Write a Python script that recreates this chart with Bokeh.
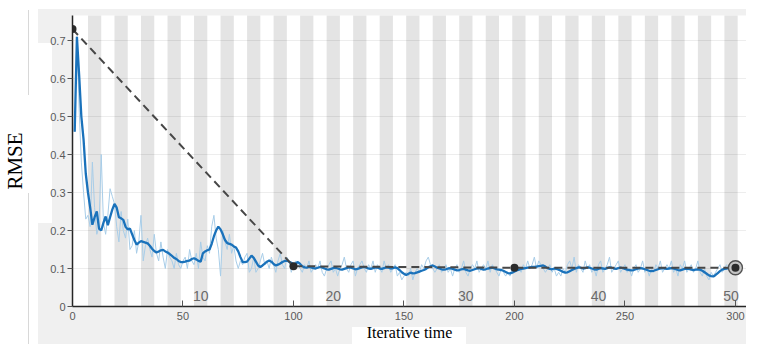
from bokeh.plotting import figure
from bokeh.models import Range1d, ColumnDataSource, FixedTicker
from bokeh.core.properties import value
from bokeh.embed import file_html
from bokeh.resources import INLINE

# ---------------- data ----------------
iterations = list(range(1, 301))

smoothed_rmse = [
    0.46, 0.71, 0.61, 0.50, 0.44, 0.35, 0.30, 0.26, 0.215, 0.235,
    0.25, 0.205, 0.20, 0.22, 0.237, 0.214, 0.235, 0.255, 0.27, 0.26,
    0.235, 0.232, 0.228, 0.21, 0.203, 0.205, 0.19, 0.175, 0.163, 0.168,
    0.172, 0.170, 0.168, 0.166, 0.160, 0.152, 0.146, 0.142, 0.145, 0.148,
    0.149, 0.145, 0.142, 0.138, 0.133, 0.128, 0.125, 0.120, 0.117, 0.117,
    0.118, 0.120, 0.121, 0.125, 0.127, 0.124, 0.120, 0.118, 0.140, 0.145,
    0.148, 0.150, 0.165, 0.185, 0.200, 0.210, 0.203, 0.190, 0.175, 0.167,
    0.165, 0.163, 0.158, 0.155, 0.145, 0.130, 0.117, 0.117, 0.118, 0.126,
    0.134, 0.128, 0.118, 0.108, 0.104, 0.108, 0.113, 0.118, 0.121, 0.118,
    0.112, 0.108, 0.110, 0.113, 0.117, 0.120, 0.121, 0.118, 0.115, 0.112,
    0.113, 0.117, 0.112, 0.106, 0.103, 0.102, 0.104, 0.103, 0.101, 0.100,
    0.102, 0.104, 0.103, 0.100, 0.098, 0.097, 0.099, 0.101, 0.102, 0.100,
    0.098, 0.097, 0.099, 0.101, 0.103, 0.102, 0.100, 0.098, 0.099, 0.101,
    0.103, 0.104, 0.102, 0.100, 0.099, 0.101, 0.103, 0.102, 0.100, 0.099,
    0.101, 0.103, 0.102, 0.100, 0.101, 0.103, 0.101, 0.096, 0.090, 0.086,
    0.083, 0.086, 0.089, 0.087, 0.088, 0.090, 0.092, 0.094, 0.096, 0.099,
    0.103, 0.106, 0.108, 0.105, 0.102, 0.100, 0.098, 0.097, 0.098, 0.100,
    0.101, 0.099, 0.097, 0.095, 0.096, 0.098, 0.099, 0.097, 0.095, 0.094,
    0.096, 0.098, 0.100, 0.101, 0.099, 0.097, 0.098, 0.100, 0.101, 0.102,
    0.100, 0.098, 0.097, 0.096, 0.094, 0.091, 0.088, 0.087, 0.089, 0.092,
    0.095, 0.097, 0.099, 0.100, 0.101, 0.102, 0.103, 0.104, 0.104, 0.105,
    0.106, 0.107, 0.108, 0.105, 0.101, 0.099, 0.098, 0.100, 0.099, 0.097,
    0.094, 0.091, 0.089, 0.090, 0.093, 0.096, 0.099, 0.101, 0.103, 0.102,
    0.100, 0.101, 0.103, 0.102, 0.100, 0.098, 0.097, 0.099, 0.101, 0.100,
    0.099, 0.101, 0.103, 0.102, 0.100, 0.099, 0.101, 0.102, 0.101, 0.099,
    0.097, 0.096, 0.095, 0.096, 0.098, 0.100, 0.101, 0.100, 0.098, 0.096,
    0.094, 0.093, 0.094, 0.096, 0.098, 0.100, 0.101, 0.100, 0.099, 0.100,
    0.101, 0.100, 0.098, 0.096, 0.095, 0.097, 0.099, 0.100, 0.099, 0.097,
    0.096, 0.097, 0.098, 0.097, 0.094, 0.090, 0.086, 0.082, 0.080, 0.079,
    0.083, 0.088, 0.093, 0.097, 0.099, 0.100, 0.101, 0.102, 0.103, 0.104,
]

raw_rmse = [
    0.46, 0.71, 0.52, 0.38, 0.30, 0.23, 0.24, 0.21, 0.38, 0.26,
    0.19, 0.21, 0.40, 0.22, 0.19, 0.24, 0.31, 0.29, 0.27, 0.21,
    0.17, 0.25, 0.20, 0.18, 0.23, 0.15, 0.16, 0.20, 0.14, 0.17,
    0.24, 0.12, 0.16, 0.18, 0.15, 0.13, 0.19, 0.14, 0.12, 0.17,
    0.13, 0.10, 0.15, 0.13, 0.12, 0.10, 0.14, 0.11, 0.10, 0.12,
    0.13, 0.10, 0.15, 0.12, 0.11, 0.14, 0.10, 0.17, 0.13, 0.12,
    0.16, 0.14, 0.21, 0.24, 0.18, 0.15, 0.08, 0.20, 0.17, 0.15,
    0.19, 0.14, 0.16, 0.12, 0.10, 0.12, 0.11, 0.13, 0.14, 0.09,
    0.10, 0.13, 0.09, 0.10, 0.12, 0.14, 0.11, 0.12, 0.10, 0.13,
    0.11, 0.09, 0.12, 0.14, 0.11, 0.10, 0.13, 0.12, 0.09, 0.11,
    0.12, 0.11, 0.10, 0.09, 0.11, 0.10, 0.12, 0.09, 0.10, 0.11,
    0.10, 0.12, 0.09, 0.08, 0.10, 0.11, 0.12, 0.09, 0.10, 0.08,
    0.10, 0.11, 0.13, 0.10, 0.09, 0.11, 0.12, 0.08, 0.10, 0.11,
    0.12, 0.10, 0.09, 0.11, 0.10, 0.12, 0.09, 0.11, 0.10, 0.09,
    0.12, 0.10, 0.11, 0.09, 0.10, 0.11, 0.08, 0.09, 0.07, 0.08,
    0.09, 0.08, 0.10, 0.07, 0.09, 0.10, 0.09, 0.11, 0.10, 0.12,
    0.13, 0.11, 0.10, 0.09, 0.10, 0.11, 0.09, 0.10, 0.11, 0.09,
    0.10, 0.08, 0.10, 0.11, 0.09, 0.10, 0.12, 0.09, 0.08, 0.10,
    0.11, 0.10, 0.12, 0.09, 0.10, 0.11, 0.10, 0.12, 0.09, 0.11,
    0.10, 0.09, 0.08, 0.10, 0.09, 0.08, 0.09, 0.08, 0.10, 0.09,
    0.11, 0.10, 0.09, 0.11, 0.10, 0.12, 0.10, 0.11, 0.13, 0.10,
    0.12, 0.11, 0.10, 0.09, 0.10, 0.11, 0.09, 0.10, 0.08, 0.09,
    0.08, 0.10, 0.09, 0.11, 0.12, 0.10, 0.13, 0.09, 0.11, 0.10,
    0.09, 0.12, 0.10, 0.11, 0.09, 0.10, 0.08, 0.11, 0.12, 0.09,
    0.10, 0.11, 0.13, 0.09, 0.10, 0.11, 0.12, 0.09, 0.10, 0.11,
    0.09, 0.10, 0.08, 0.10, 0.11, 0.09, 0.10, 0.12, 0.09, 0.10,
    0.08, 0.10, 0.09, 0.11, 0.10, 0.12, 0.09, 0.10, 0.11, 0.10,
    0.12, 0.09, 0.10, 0.08, 0.11, 0.10, 0.12, 0.09, 0.10, 0.11,
    0.09, 0.10, 0.12, 0.09, 0.08, 0.10, 0.08, 0.07, 0.09, 0.08,
    0.09, 0.10, 0.11, 0.09, 0.10, 0.11, 0.10, 0.10, 0.11, 0.10,
]

val_iterations = [0, 100, 200, 300]
val_rmse = [0.73, 0.106, 0.102, 0.102]

epochs = list(range(1, 51))
iters_per_epoch = 6
epoch_label_values = [10, 20, 30, 40, 50]

x_ticks = [0, 50, 100, 150, 200, 250, 300]
y_ticks = [0, 0.1, 0.2, 0.3, 0.4, 0.5, 0.6, 0.7]

assert len(smoothed_rmse) == 300 and len(raw_rmse) == 300

# page background behind the (transparent) border: grey panel with white strips
bg = ", ".join([
    "linear-gradient(#d8d8d8,#d8d8d8) 28px 10px / 1px 85px no-repeat",
    "linear-gradient(#d8d8d8,#d8d8d8) 28px 193px / 1px 151px no-repeat",
    "linear-gradient(#ffffff,#ffffff) 0px 0px / 38px 344px no-repeat",
    "linear-gradient(#ffffff,#ffffff) 0px 43px / 52px 180px no-repeat",
    "linear-gradient(#ffffff,#ffffff) 0px 0px / 746px 9px no-repeat",
    "linear-gradient(#ffffff,#ffffff) 352px 327px / 114px 17px no-repeat",
    "#f0f0f0",
])

# ---------------- figure ----------------
p = figure(width=746, height=344, output_backend="svg", toolbar_location=None,
           x_range=Range1d(0, 305.0), y_range=Range1d(0, 0.7658),
           min_border_left=72, min_border_right=0, min_border_top=15, min_border_bottom=38,
           border_fill_color=None, background_fill_color="white",
           outline_line_color=None, styles={"background": bg})

# alternating epoch bands
band_epochs = [e for e in epochs if e % 2 == 0]
band_src = ColumnDataSource(dict(
    left=[(e - 1) * iters_per_epoch + 1 for e in band_epochs],
    right=[e * iters_per_epoch + 1 for e in band_epochs],
))
p.quad(left="left", right="right", bottom=0, top=1, source=band_src,
       fill_color="#e4e4e4", line_color=None, level="image")

# grid
p.xgrid.visible = False
p.ygrid.ticker = FixedTicker(ticks=y_ticks)
p.ygrid.grid_line_color = "black"
p.ygrid.grid_line_alpha = 0.07

# curves
p.line(iterations, raw_rmse, line_color="#a8cde8", line_width=1)
p.line(iterations, smoothed_rmse, line_color="#1a72bb", line_width=2.3)

# validation
p.line(val_iterations, val_rmse, line_color="#474747", line_width=2, line_dash="8 5")
p.scatter(val_iterations[-1:], val_rmse[-1:], size=14, fill_color="#c4c4c4",
          line_color="#505050", line_width=1.3)
p.scatter(val_iterations, val_rmse, size=8, fill_color="#2b2b2b", line_color=None)

# epoch labels
ep_src = ColumnDataSource(dict(
    x=[e * iters_per_epoch - 2 for e in epoch_label_values],
    y=[0.027] * len(epoch_label_values),
    t=[str(e) for e in epoch_label_values],
))
p.text(x="x", y="y", text="t", source=ep_src, text_align="center",
       text_baseline="middle", text_font=value("Liberation Sans"),
       text_font_size="14px", text_color="#6a6a6a")

# axes
for ax in (p.xaxis[0], p.yaxis[0]):
    ax.axis_line_color = "#262626"
    ax.axis_line_width = 1.5
    ax.minor_tick_line_color = None
    ax.major_tick_line_color = "#555555"
    ax.major_label_text_font = "Liberation Sans"
    ax.major_label_text_font_size = "11px"
    ax.major_label_text_color = "#5a5a5a"
    ax.axis_label_text_font = "Liberation Serif"
    ax.axis_label_text_font_style = "normal"
    ax.axis_label_text_color = "black"

p.xaxis.ticker = FixedTicker(ticks=x_ticks)
p.xaxis.major_tick_in = 6
p.xaxis.major_tick_out = 0
p.xaxis.major_label_standoff = 5
p.xaxis.axis_label = "Iterative time"
p.xaxis.axis_label_text_font_size = "16px"
p.xaxis.axis_label_standoff = 1

p.yaxis.ticker = FixedTicker(ticks=y_ticks)
p.yaxis.major_tick_in = 0
p.yaxis.major_tick_out = 5
p.yaxis.major_label_standoff = 2
p.yaxis.major_label_overrides = {0: "0"}
p.yaxis.axis_label = "RMSE"
p.yaxis.axis_label_text_font_size = "21px"
p.yaxis.axis_label_standoff = 20

open("out.html", "w").write(file_html(p, INLINE))
